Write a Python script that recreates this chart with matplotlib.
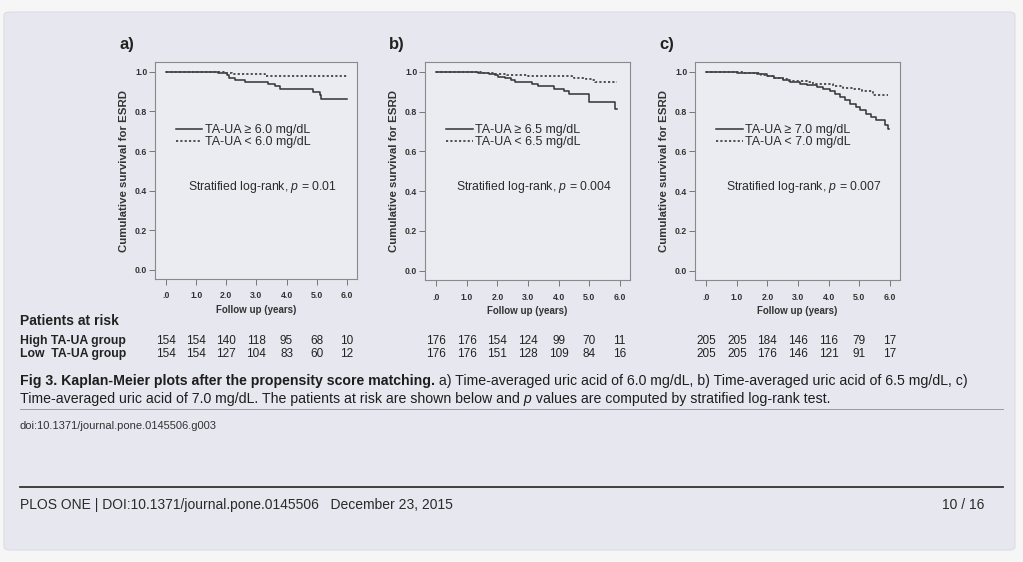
"""
Kaplan-Meier plots (Fig 3 page scan) redrawn with matplotlib.
"""

import matplotlib
matplotlib.use('Agg')
from matplotlib import pyplot as plt
from matplotlib.patches import FancyBboxPatch
from matplotlib import transforms

# ---- data ----------------------------------------------------------------
years = [0, 1, 2, 3, 4, 5, 6]
year_labels = ['.0', '1.0', '2.0', '3.0', '4.0', '5.0', '6.0']

# panel a) cut-off 6.0 mg/dL
a_high_t = [0, 1.73, 2.01, 2.09, 2.28, 2.62, 3.39, 3.61, 3.77, 4.88, 5.10, 5.15, 6.02]
a_high_s = [1.0, 0.992, 0.983, 0.967, 0.958, 0.950, 0.938, 0.928, 0.916, 0.899, 0.882, 0.862, 0.862]
a_low_t = [0, 2.0, 2.2, 3.28, 6.02]
a_low_s = [1.0, 0.992, 0.988, 0.977, 0.977]

# panel b) cut-off 6.5 mg/dL
b_high_t = [0, 1.36, 1.74, 1.91, 2.02, 2.24, 2.46, 2.57, 3.12, 3.34, 3.84, 4.18, 4.34, 5.0, 5.85, 5.93]
b_high_s = [1.0, 0.997, 0.992, 0.983, 0.975, 0.967, 0.958, 0.950, 0.938, 0.928, 0.916, 0.905, 0.891, 0.849, 0.815, 0.815]
b_low_t = [0, 1.45, 1.9, 2.3, 3.0, 4.5, 4.9, 5.1, 5.2, 5.93]
b_low_s = [1.0, 0.995, 0.99, 0.983, 0.978, 0.972, 0.965, 0.958, 0.95, 0.95]

# panel c) cut-off 7.0 mg/dL
c_high_t = [0, 1.0, 1.65, 1.98, 2.2, 2.52, 2.74, 3.07, 3.28, 3.61, 3.83, 4.04, 4.2, 4.37,
            4.53, 4.70, 4.91, 5.02, 5.24, 5.4, 5.57, 5.84, 5.95, 5.97]
c_high_s = [1.0, 0.995, 0.988, 0.978, 0.967, 0.958, 0.950, 0.941, 0.933, 0.925, 0.916, 0.905,
            0.891, 0.874, 0.857, 0.840, 0.824, 0.807, 0.790, 0.773, 0.756, 0.731, 0.715, 0.715]
c_low_t = [0, 1.2, 1.8, 2.0, 2.2, 2.5, 2.7, 3.3, 3.5, 4.14, 4.47, 4.8, 5.1, 5.45, 5.95]
c_low_s = [1.0, 0.995, 0.985, 0.978, 0.97, 0.962, 0.955, 0.95, 0.94, 0.928, 0.92, 0.912, 0.905, 0.885, 0.885]

# patients at risk
a_risk_high = [154, 154, 140, 118, 95, 68, 10]
a_risk_low = [154, 154, 127, 104, 83, 60, 12]
b_risk_high = [176, 176, 154, 124, 99, 70, 11]
b_risk_low = [176, 176, 151, 128, 109, 84, 16]
c_risk_high = [205, 205, 184, 146, 116, 79, 17]
c_risk_low = [205, 205, 176, 146, 121, 91, 17]

panel_tags = ['a)', 'b)', 'c)']
cutoffs = ['6.0', '6.5', '7.0']
p_values = ['0.01', '0.004', '0.007']

# ---- page setup ------------------------------------------------------------
W, H = 1023, 562
fig = plt.figure(figsize=(W / 100, H / 100), dpi=100, facecolor='#f6f6f7')

plt.rcParams['mathtext.fontset'] = 'custom'
plt.rcParams['mathtext.it'] = 'Liberation Sans:italic'
plt.rcParams['mathtext.rm'] = 'Liberation Sans'

NARROW = ['Liberation Sans Narrow', 'Liberation Sans', 'DejaVu Sans']
ARIAL = ['Liberation Sans', 'DejaVu Sans']
INK = '#2b2b2b'
PAGE = '#e7e7ef'


def fx(px):
    return px / W


def fy(py):
    return 1 - py / H


page = FancyBboxPatch((fx(4), fy(550)), fx(1011), (550 - 12) / H,
                      boxstyle='round,pad=0,rounding_size=0.006',
                      transform=fig.transFigure, facecolor=PAGE,
                      edgecolor='#dcdce4', lw=0.8, zorder=-5)
fig.patches.append(page)

# axes boxes in pixels: left, right, top, bottom
boxes = [(155, 357, 62, 279), (425, 630, 62, 280), (695, 900, 62, 280)]
curves = [(a_high_t, a_high_s, a_low_t, a_low_s),
          (b_high_t, b_high_s, b_low_t, b_low_s),
          (c_high_t, c_high_s, c_low_t, c_low_s)]
risks = [(a_risk_high, a_risk_low), (b_risk_high, b_risk_low), (c_risk_high, c_risk_low)]

axes = []
for i in range(3):
    l, r, t, b = boxes[i]
    ax = fig.add_axes([fx(l), fy(b), fx(r - l), (b - t) / H])
    ax.set_facecolor('#ebebf2')
    ht, hs, lt, ls = curves[i]
    ax.step(ht, hs, where='post', color='#333333', lw=1.1,
            label='TA-UA \u2265 %s mg/dL' % cutoffs[i])
    ax.step(lt, ls, where='post', color='#444444', lw=1.3, linestyle=(0, (1.2, 1.2)),
            label='TA-UA < %s mg/dL' % cutoffs[i])
    ax.set_xlim(-0.37, 6.34)
    ax.set_ylim(-0.047, 1.05)
    ax.set_xticks(years)
    ax.set_xticklabels(year_labels)
    ax.set_yticks([0.0, 0.2, 0.4, 0.6, 0.8, 1.0])
    ax.set_yticklabels(['0.0', '0.2', '0.4', '0.6', '0.8', '1.0'])
    for lab in ax.get_xticklabels() + ax.get_yticklabels():
        lab.set_family(ARIAL)
        lab.set_weight('bold')
        lab.set_size(6.3)
        lab.set_color('#333333')
    ax.tick_params(axis='x', length=4, width=0.7, color='#777777', pad=5)
    ax.tick_params(axis='y', length=4, width=0.7, color='#777777', pad=1.5)
    for sp in ax.spines.values():
        sp.set_color('#8a8a8a')
        sp.set_linewidth(0.8)
    ax.set_xlabel('Follow up (years)', family=ARIAL, weight='bold', size=7,
                  color='#333333', labelpad=3)
    ax.set_ylabel('Cumulative survival for ESRD', family=ARIAL, weight='bold', size=8.2,
                  color='#333333', labelpad=4)
    leg = ax.legend(loc='upper left', bbox_to_anchor=(0.08, 0.737), frameon=False,
                    prop={'family': ARIAL, 'size': 9}, handlelength=2.1,
                    handletextpad=0.2, labelspacing=0.0, borderaxespad=0)
    for txt in leg.get_texts():
        txt.set_color(INK)
    ax.text(0.53, 0.425, 'Stratified log-rank, $p$ = %s' % p_values[i], transform=ax.transAxes,
            ha='center', va='center', family=ARIAL, size=8.8, color=INK)
    fig.text(fx(l - 36), fy(45), panel_tags[i], family=NARROW, weight='bold',
             size=12, color='#222222', va='center')
    axes.append(ax)

# patients at risk table
fig.text(fx(20), fy(321), 'Patients at risk', family=NARROW, weight='bold',
         size=10, color='#222222', va='center')
fig.text(fx(20), fy(341), 'High TA-UA group', family=NARROW, weight='bold',
         size=8.8, color='#222222', va='center')
fig.text(fx(20), fy(354), 'Low  TA-UA group', family=NARROW, weight='bold',
         size=8.8, color='#222222', va='center')
for i in range(3):
    ax = axes[i]
    tr = transforms.blended_transform_factory(ax.transData, fig.transFigure)
    high, low = risks[i]
    for k in range(len(years)):
        ax.text(years[k], fy(341), str(high[k]), transform=tr, ha='center', va='center',
                family=NARROW, size=8.5, color='#222222', clip_on=False)
        ax.text(years[k], fy(354), str(low[k]), transform=tr, ha='center', va='center',
                family=NARROW, size=8.5, color='#222222', clip_on=False)


def draw_runs(x_px, y_px, runs, size):
    # place text pieces one after another on the same baseline
    renderer = fig.canvas.get_renderer()
    x = x_px
    for s, weight, style in runs:
        t = fig.text(fx(x), fy(y_px), s, family=NARROW, weight=weight, style=style,
                     size=size, color='#1e1e1e', va='baseline')
        x += t.get_window_extent(renderer).width


draw_runs(20, 385, [('Fig 3. Kaplan-Meier plots after the propensity score matching.', 'bold', 'normal'),
                    (' a) Time-averaged uric acid of 6.0 mg/dL, b) Time-averaged uric acid of 6.5 mg/dL, c)',
                     'normal', 'normal')], 10.2)
draw_runs(20, 403, [('Time-averaged uric acid of 7.0 mg/dL. The patients at risk are shown below and', 'normal', 'normal'),
                    (' p', 'normal', 'italic'),
                    (' values are computed by stratified log-rank test.', 'normal', 'normal')], 10.2)

fig.add_artist(plt.Line2D([fx(20), fx(1003)], [fy(409), fy(409)], color='#9a9aa2', lw=0.7))
fig.text(fx(20), fy(426), 'doi:10.1371/journal.pone.0145506.g003', family=NARROW,
         size=8, color='#333333', va='center')
fig.add_artist(plt.Line2D([fx(20), fx(1003)], [fy(487), fy(487)], color='#333333', lw=1.3))
fig.text(fx(20), fy(505), 'PLOS ONE | DOI:10.1371/journal.pone.0145506   December 23, 2015',
         family=NARROW, size=10, color='#2a2a2a', va='center')
fig.text(fx(984), fy(505), '10 / 16', family=NARROW, size=10, color='#2a2a2a',
         va='center', ha='right')

fig.savefig('out.png', dpi=100, facecolor=fig.get_facecolor())
